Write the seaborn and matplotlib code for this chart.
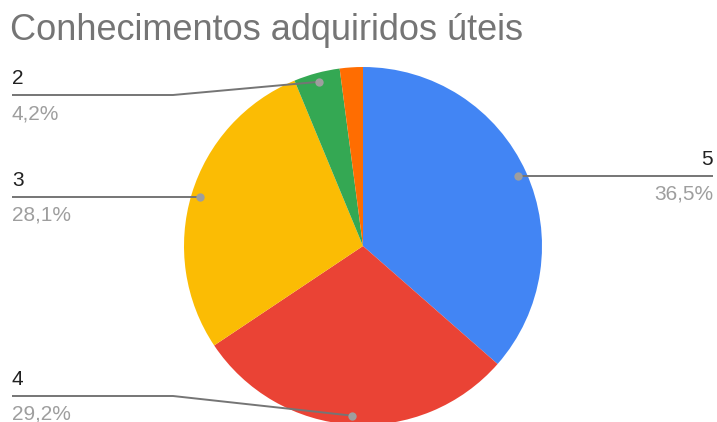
import numpy as np
import matplotlib
matplotlib.use("Agg")
import matplotlib.pyplot as plt
import seaborn as sns

# data (responses per rating, clockwise from the top)
ratings = ["5", "4", "3", "2", "1"]
counts = [35, 28, 27, 4, 2]
colors = ["#4285F4", "#EA4335", "#FBBC04", "#34A853", "#FF6D01"]
title = "Conhecimentos adquiridos úteis"

# which slices get a callout: side and y of the leader line (screen px)
callouts = {"5": ("right", None), "4": ("left", 396), "3": ("left", None), "2": ("left", 95)}

W, H = 717, 422
cx, cy, R = 363, 246, 179
r_dot = 170

sns.set_theme(style="white")
plt.rcParams["font.family"] = ["Liberation Sans", "DejaVu Sans"]

fig = plt.figure(figsize=(W / 100, H / 100), dpi=100)
ax = fig.add_axes([0, 0, 1, 1])

ax.pie(counts, colors=colors, startangle=90, counterclock=False,
       center=(cx, H - cy), radius=R, frame=True,
       wedgeprops=dict(linewidth=0))
ax.set_xlim(0, W)
ax.set_ylim(0, H)
ax.set_aspect("equal")
ax.axis("off")

total = sum(counts)
cum = np.cumsum([0] + counts)
line_col = "#757575"
for i, lab in enumerate(ratings):
    if lab not in callouts:
        continue
    side, ly = callouts[lab]
    mid = (cum[i] + counts[i] / 2) / total * 2 * np.pi
    dx = cx + r_dot * np.sin(mid)
    dy = cy - r_dot * np.cos(mid)
    if ly is None:
        ly = dy
    pct = f"{counts[i] / total * 100:.1f}%".replace(".", ",")
    if side == "right":
        xs, ys = [dx, 713], [dy, ly]
        tx, ha = 713, "right"
    else:
        xs, ys = [12, 173, dx], [ly, ly, dy]
        if abs(ly - dy) < 1:
            xs, ys = [12, dx], [ly, dy]
        tx, ha = 12, "left"
    ax.plot(xs, [H - y for y in ys], color=line_col, lw=1.4, solid_capstyle="butt")
    ax.plot(dx, H - dy, "o", color="#9E9E9E", ms=6, mec="none")
    ax.text(tx, H - ly + 7, lab, ha=ha, va="bottom", fontsize=15, color="#212121")
    ax.text(tx, H - ly - 9, pct, ha=ha, va="top", fontsize=15, color="#9E9E9E")

fig.text(10 / W, 1 - 30 / H, title, ha="left", va="center", fontsize=26, color="#757575")

fig.savefig("out.png", dpi=100)
